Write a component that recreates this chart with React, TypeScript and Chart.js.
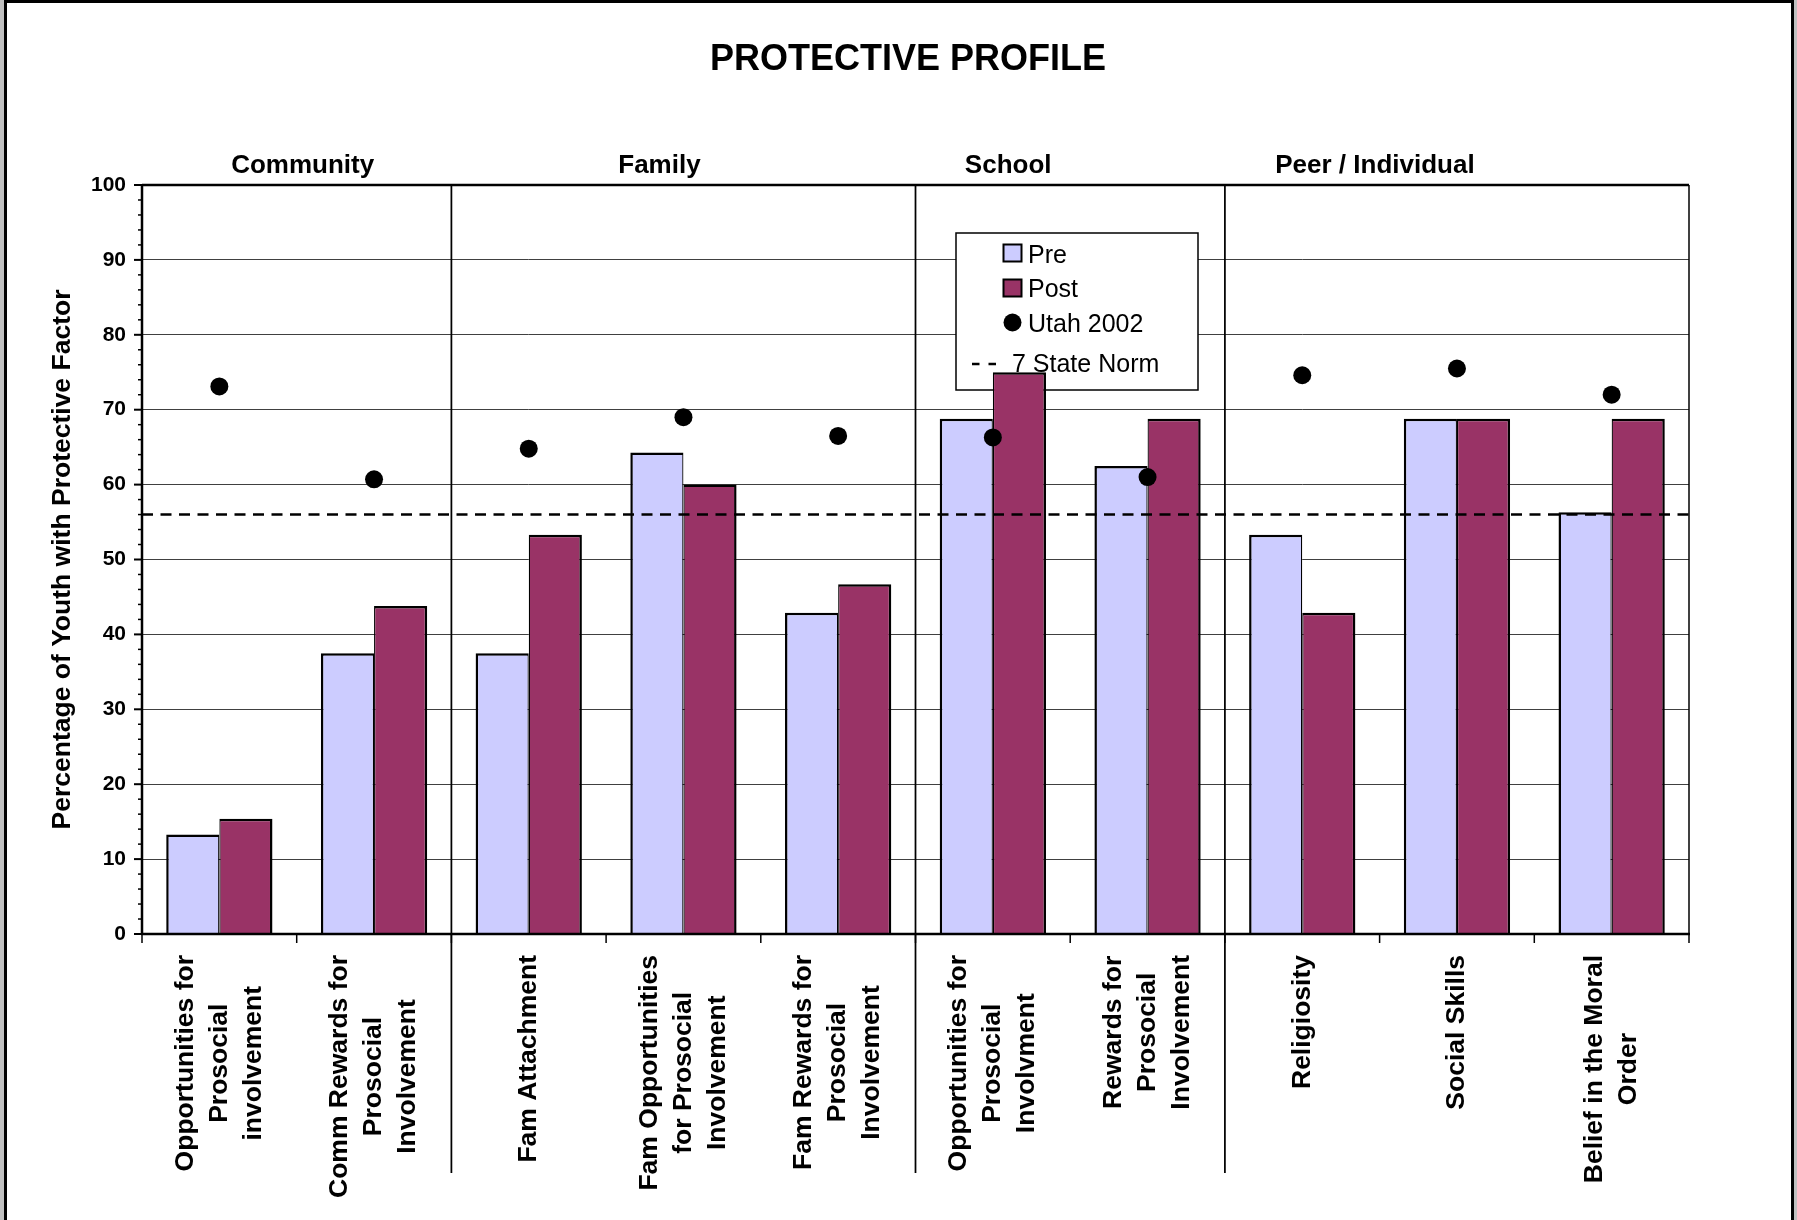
import React, { useEffect, useRef } from 'react';
import { Chart, registerables } from 'chart.js';

Chart.register(...registerables);

// ---- data ----
const categories: string[][] = [
  ['Opportunities for', 'Prosocial', 'involvement'],
  ['Comm Rewards for', 'Prosocial', 'Involvement'],
  ['Fam Attachment'],
  ['Fam Opportunities', 'for Prosocial', 'Involvement'],
  ['Fam Rewards for', 'Prosocial', 'Involvement'],
  ['Opportunities for', 'Prosocial', 'Involvment'],
  ['Rewards for', 'Prosocial', 'Involvement'],
  ['Religiosity'],
  ['Social Skills'],
  ['Belief in the Moral', 'Order'],
];

const groupNames = ['Community', 'Family', 'School', 'Peer / Individual'];
const groupSizes = [2, 3, 2, 3];

const preValues = [13.3, 37.5, 37.5, 64.3, 42.9, 68.8, 62.5, 53.3, 68.8, 56.3];
const postValues = [15.4, 43.8, 53.3, 60.0, 46.7, 75.0, 68.8, 42.9, 68.8, 68.8];
const utah2002Values = [73.1, 60.7, 64.8, 69.0, 66.5, 66.3, 61.0, 74.6, 75.5, 72.0];
const stateNorm = 56;
const stateNormLabel = '7 State Norm';

const yMin = 0;
const yMax = 100;
const yStep = 10;
const yMinorStep = 2;

const chartTitle = 'PROTECTIVE PROFILE';
const yAxisTitle = 'Percentage of Youth with Protective Factor';

// ---- styling ----
const FONT = "'Liberation Sans', Arial, Helvetica, sans-serif";
const PRE_COLOR = '#CCCCFF';
const POST_COLOR = '#993366';
const WIDTH = 1797;
const HEIGHT = 1220;

// horizontal nudges of the group headings relative to their group's centre
const GROUP_LABEL_SHIFT = [6, -24, -62, -82];

const profilePlugin = {
  id: 'profileDecorations',
  beforeDatasetsDraw(chart: any) {
    const ctx: CanvasRenderingContext2D = chart.ctx;
    const ds = chart.data.datasets;
    // legend box (sits behind the bars)
    const lx = 956, ly = 233, lw = 242, lh = 157;
    ctx.save();
    ctx.fillStyle = '#ffffff';
    ctx.fillRect(lx, ly, lw, lh);
    ctx.strokeStyle = '#000';
    ctx.lineWidth = 1.5;
    ctx.strokeRect(lx, ly, lw, lh);

    ctx.font = `25px ${FONT}`;
    ctx.textAlign = 'left';
    ctx.textBaseline = 'alphabetic';

    const sw = 18;
    const sx = 1003.5;
    // Pre
    ctx.fillStyle = ds[1].backgroundColor;
    ctx.fillRect(sx, 244.5, sw, sw - 1);
    ctx.lineWidth = 2;
    ctx.strokeRect(sx, 244.5, sw, sw - 1);
    ctx.fillStyle = '#000';
    ctx.fillText(ds[1].label, 1028, 262.5);
    // Post
    ctx.fillStyle = ds[2].backgroundColor;
    ctx.fillRect(sx, 279.5, sw, sw - 1);
    ctx.strokeRect(sx, 279.5, sw, sw - 1);
    ctx.fillStyle = '#000';
    ctx.fillText(ds[2].label, 1028, 297);
    // Utah 2002
    ctx.beginPath();
    ctx.arc(1012.5, 322.5, 9, 0, Math.PI * 2);
    ctx.fill();
    ctx.fillText(ds[0].label, 1028, 331.5);
    // State norm
    ctx.beginPath();
    ctx.setLineDash([7.5, 9]);
    ctx.lineWidth = 2.5;
    ctx.moveTo(972, 364);
    ctx.lineTo(997, 364);
    ctx.stroke();
    ctx.setLineDash([]);
    ctx.fillText(stateNormLabel, 1012, 372);
    ctx.restore();
  },
  afterDatasetsDraw(chart: any) {
    const ctx: CanvasRenderingContext2D = chart.ctx;
    const { left, right, top, bottom } = chart.chartArea;
    const y = chart.scales.y;
    const n = chart.data.labels.length;
    const cw = (right - left) / n;

    ctx.save();
    ctx.strokeStyle = '#000';

    // 7 state norm reference line
    const ny = y.getPixelForValue(stateNorm);
    ctx.beginPath();
    ctx.setLineDash([11, 7.5]);
    ctx.lineWidth = 2.5;
    ctx.moveTo(left, ny);
    ctx.lineTo(right, ny);
    ctx.stroke();
    ctx.setLineDash([]);

    // plot frame: top and right
    ctx.lineWidth = 2.5;
    ctx.beginPath();
    ctx.moveTo(left, top);
    ctx.lineTo(right, top);
    ctx.stroke();
    ctx.lineWidth = 1.5;
    ctx.beginPath();
    ctx.moveTo(right, top);
    ctx.lineTo(right, bottom);
    ctx.stroke();

    // group separators running down through the label area
    let acc = 0;
    ctx.lineWidth = 1.75;
    for (let g = 0; g < groupSizes.length - 1; g++) {
      acc += groupSizes[g];
      const gx = left + acc * cw;
      ctx.beginPath();
      ctx.moveTo(gx, top);
      ctx.lineTo(gx, 1173);
      ctx.stroke();
    }

    // category ticks under the axis
    ctx.lineWidth = 1.5;
    for (let i = 0; i <= n; i++) {
      const tx = left + i * cw;
      ctx.beginPath();
      ctx.moveTo(tx, bottom);
      ctx.lineTo(tx, bottom + 9);
      ctx.stroke();
    }

    // y axis major / minor ticks
    for (let v = yMin; v <= yMax; v += yMinorStep) {
      const ty = y.getPixelForValue(v);
      const major = v % yStep === 0;
      ctx.lineWidth = major ? 2 : 1.5;
      ctx.beginPath();
      ctx.moveTo(left - (major ? 8 : 4), ty);
      ctx.lineTo(left, ty);
      ctx.stroke();
    }

    // axes
    ctx.lineWidth = 2.5;
    ctx.beginPath();
    ctx.moveTo(left, top - 1);
    ctx.lineTo(left, bottom + 1);
    ctx.stroke();
    ctx.beginPath();
    ctx.moveTo(left - 1, bottom);
    ctx.lineTo(right + 1, bottom);
    ctx.stroke();
    ctx.restore();
  },
  afterDraw(chart: any) {
    const ctx: CanvasRenderingContext2D = chart.ctx;
    const { left, right } = chart.chartArea;
    const x = chart.scales.x;
    const labels: string[][] = chart.data.labels;
    const n = labels.length;
    const cw = (right - left) / n;

    ctx.save();
    ctx.fillStyle = '#000';

    // title
    ctx.font = `bold 36px ${FONT}`;
    ctx.textAlign = 'center';
    ctx.textBaseline = 'alphabetic';
    ctx.fillText(chartTitle, 908, 70);

    // group headings
    ctx.font = `bold 26px ${FONT}`;
    let start = 0;
    groupNames.forEach((name, g) => {
      const end = start + groupSizes[g];
      const cx = left + ((start + end) / 2) * cw + GROUP_LABEL_SHIFT[g];
      ctx.fillText(name, cx, 173);
      start = end;
    });

    // rotated multi-line category labels
    ctx.font = `bold 26.5px ${FONT}`;
    const lineGap = 34;
    const labelTop = 955;
    labels.forEach((lines, i) => {
      const px = x.getPixelForValue(i);
      const maxW = Math.max(...lines.map((l) => ctx.measureText(l).width));
      const cy = labelTop + maxW / 2;
      lines.forEach((line, j) => {
        const lx = px + (j - (lines.length - 1) / 2) * lineGap;
        ctx.save();
        ctx.translate(lx, cy);
        ctx.rotate(-Math.PI / 2);
        ctx.textAlign = 'center';
        ctx.textBaseline = 'middle';
        ctx.fillText(line, 0, 0);
        ctx.restore();
      });
    });
    ctx.restore();
  },
};

export default function App() {
  const canvasRef = useRef<HTMLCanvasElement | null>(null);

  useEffect(() => {
    const canvas = canvasRef.current;
    if (!canvas) return;
    const chart = new Chart(canvas, {
      type: 'bar',
      data: {
        labels: categories as any,
        datasets: [
          {
            type: 'line',
            label: 'Utah 2002',
            data: utah2002Values,
            showLine: false,
            pointRadius: 9,
            pointHoverRadius: 9,
            pointBackgroundColor: '#000',
            pointBorderWidth: 0,
            backgroundColor: '#000',
            borderColor: '#000',
            order: 0,
          } as any,
          {
            type: 'bar',
            label: 'Pre',
            data: preValues,
            backgroundColor: PRE_COLOR,
            borderColor: '#000',
            borderWidth: { top: 2.5, left: 2.5, right: 1.25, bottom: 0 },
            borderSkipped: 'start',
            order: 1,
          },
          {
            type: 'bar',
            label: 'Post',
            data: postValues,
            backgroundColor: POST_COLOR,
            borderColor: '#000',
            borderWidth: { top: 2.5, left: 1.25, right: 2.5, bottom: 0 },
            borderSkipped: 'start',
            order: 1,
          },
        ],
      },
      options: {
        responsive: false,
        animation: false,
        devicePixelRatio: 1,
        events: [],
        layout: { padding: { top: 185, right: WIDTH - 1689, bottom: 0, left: 0 } },
        datasets: {
          bar: { categoryPercentage: 0.687, barPercentage: 1.0 },
        },
        plugins: {
          legend: { display: false },
          title: { display: false },
          tooltip: { enabled: false },
        },
        scales: {
          x: {
            type: 'category',
            offset: true,
            grid: { display: false, drawTicks: false },
            ticks: { display: false },
            border: { display: false },
            afterFit: (s: any) => {
              s.height = HEIGHT - 934;
            },
          },
          y: {
            min: yMin,
            max: yMax,
            ticks: {
              stepSize: yStep,
              color: '#000',
              padding: 16,
              font: { family: FONT, size: 21, weight: 'bold' },
            },
            grid: { color: '#404040', lineWidth: 1, drawTicks: false },
            border: { display: false },
            title: {
              display: true,
              text: yAxisTitle,
              color: '#000',
              font: { family: FONT, size: 26.5, weight: 'bold' },
              padding: { top: 47, bottom: 0 },
            },
            afterFit: (s: any) => {
              s.width = 142;
            },
          },
        },
      } as any,
      plugins: [profilePlugin],
    });
    return () => chart.destroy();
  }, []);

  return (
    <div
      style={{
        position: 'absolute',
        left: 0,
        top: 0,
        width: WIDTH,
        height: HEIGHT,
        background: '#c0c0c0',
        overflow: 'hidden',
      }}
    >
      <div
        style={{
          position: 'absolute',
          left: 4,
          top: 0,
          width: 1790,
          height: HEIGHT,
          boxSizing: 'border-box',
          background: '#ffffff',
          borderLeft: '3px solid #000',
          borderTop: '3px solid #000',
          borderRight: '3px solid #000',
        }}
      />
      <canvas
        ref={canvasRef}
        width={WIDTH}
        height={HEIGHT}
        style={{ position: 'absolute', left: 0, top: 0, width: WIDTH, height: HEIGHT }}
      />
    </div>
  );
}
